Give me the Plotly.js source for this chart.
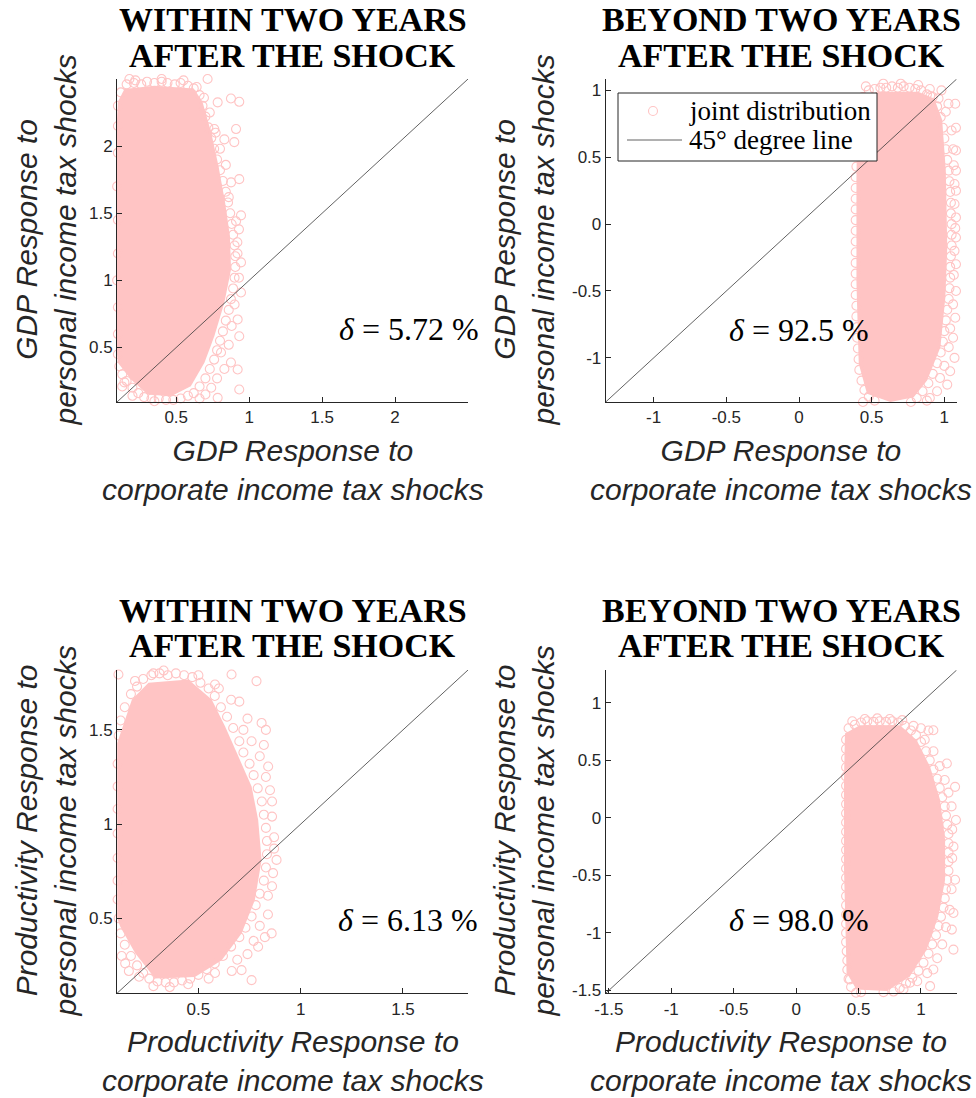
<!DOCTYPE html>
<html><head><meta charset="utf-8">
<script src="https://cdn.plot.ly/plotly-3.0.1.min.js"></script>
<style>html,body{margin:0;padding:0;background:#fff}</style>
</head><body><div id="chart" style="width:976px;height:1098px"></div>
<script>
// ---------- data ----------
const limits1 = [0.094, 2.5];      // GDP, within two years (x = y limits)
const limits2 = [-1.33, 1.085];    // GDP, beyond two years
const limits3 = [0.102, 1.818];    // Productivity, within two years
const limits4 = [-1.525, 1.286];   // Productivity, beyond two years

const ticks1 = [0.5, 1, 1.5, 2];
const ticks2 = [-1, -0.5, 0, 0.5, 1];
const ticks3 = [0.5, 1, 1.5];
const ticks4 = [-1.5, -1, -0.5, 0, 0.5, 1];

const deltaValues = ['5.72', '92.5', '6.13', '98.0'];

const titleLine1 = ['WITHIN TWO YEARS', 'BEYOND TWO YEARS'];
const titleLine2 = 'AFTER THE SHOCK';
const xTitles = ['GDP Response to', 'Productivity Response to'];
const yTitles = ['GDP Response to', 'Productivity Response to'];
const xTitle2 = 'corporate income tax shocks';
const yTitle2 = 'personal income tax shocks';
const legendLabels = ['joint distribution', '45° degree line'];

// dense (solid) region of each joint distribution
const core1X = [0.094,0.10,0.145,0.35,0.62,0.68,0.74,0.79,0.835,0.868,0.876,0.83,0.761,0.693,0.60,0.465,0.304,0.19,0.10,0.094];
const core1Y = [2.20,2.33,2.425,2.45,2.43,2.33,2.10,1.85,1.58,1.33,1.082,0.833,0.584,0.386,0.211,0.137,0.149,0.261,0.386,0.45];
const core2X = [0.40,0.422,0.537,0.82,0.93,0.985,1.01,1.02,1.007,0.973,0.881,0.789,0.629,0.468,0.411,0.395,0.395];
const core2Y = [0.70,0.92,0.99,0.99,0.94,0.78,0.40,-0.174,-0.547,-0.921,-1.169,-1.294,-1.33,-1.268,-1.044,-0.423,0.324];
const core3X = [0.103,0.175,0.256,0.451,0.565,0.63,0.695,0.76,0.792,0.809,0.776,0.711,0.614,0.483,0.288,0.191,0.118,0.103];
const core3Y = [1.43,1.661,1.75,1.767,1.661,1.519,1.36,1.2,1.023,0.81,0.597,0.42,0.278,0.189,0.181,0.314,0.455,0.50];
const core4X = [0.383,0.391,0.511,0.832,0.966,1.073,1.153,1.193,1.193,1.139,1.046,0.912,0.725,0.484,0.404,0.383];
const core4Y = [0.30,0.733,0.805,0.805,0.675,0.444,0.155,-0.191,-0.538,-0.856,-1.145,-1.376,-1.506,-1.491,-1.347,-0.423];

// individual draws visible around the edges of each cloud
const points1 = [[0.12,2.40],[0.16,2.46],[0.21,2.47],[0.26,2.46],[0.30,2.48],[0.35,2.47],[0.40,2.48],[0.44,2.47],[0.49,2.46],[0.53,2.47],[0.58,2.45],[0.62,2.43],[0.179,2.50],[0.715,2.50],
[0.66,2.38],[0.68,2.30],[0.70,2.22],[0.72,2.14],[0.74,2.06],[0.76,1.98],[0.78,1.90],[0.80,1.82],[0.82,1.74],[0.84,1.66],[0.855,1.58],[0.87,1.50],[0.88,1.42],[0.89,1.34],[0.90,1.26],[0.905,1.18],[0.905,1.10],[0.90,1.02],[0.89,0.94],[0.875,0.86],[0.86,0.78],[0.84,0.70],[0.82,0.62],[0.80,0.55],[0.78,0.48],[0.76,0.41],[0.73,0.34],[0.70,0.27],[0.66,0.21],[0.62,0.16],
[0.58,0.14],[0.53,0.12],[0.48,0.11],[0.43,0.11],[0.38,0.12],[0.33,0.12],[0.28,0.13],[0.24,0.16],[0.20,0.20],[0.16,0.25],[0.13,0.30],[0.11,0.36],
[0.10,0.45],[0.10,0.60],[0.10,0.80],[0.095,1.00],[0.10,1.20],[0.10,1.45],[0.095,1.70],[0.10,1.95],[0.10,2.15],[0.10,2.30],
[0.875,2.355],[0.932,2.33],[0.784,2.326],[0.761,2.127],[0.91,2.127],[0.898,2.03],[0.83,2.05],[0.876,1.73],[0.932,1.754],[0.944,1.484],[0.919,1.284],[0.944,1.134],[0.944,0.91],[0.921,0.709],[0.932,0.584],[0.807,0.463],[0.921,0.336],[0.932,0.187],[0.784,0.125],[0.875,0.388],[0.145,0.24],
[0.64,2.44],[0.69,2.36],[0.73,2.25],[0.77,2.10],[0.80,1.98],[0.84,1.86],[0.86,1.62],[0.91,1.44],[0.93,1.38],[0.92,1.20],[0.93,1.02],[0.90,0.82],[0.88,0.66],[0.86,0.52],[0.83,0.34],[0.78,0.27],[0.74,0.20],[0.70,0.15],[0.66,0.12],[0.22,2.49],[0.40,2.50],[0.55,2.49],[0.13,0.21],[0.20,0.14],[0.35,0.10]];

const points2 = [[0.44,0.95],[0.48,1.00],[0.52,1.01],[0.56,1.02],[0.60,1.02],[0.64,1.03],[0.68,1.02],[0.72,1.03],[0.76,1.02],[0.80,1.01],[0.84,1.00],[0.88,0.97],
[0.92,0.95],[0.95,0.88],[0.975,0.80],[0.99,0.72],[1.00,0.64],[1.01,0.56],[1.02,0.48],[1.03,0.40],[1.035,0.32],[1.04,0.24],[1.045,0.16],[1.045,0.08],[1.05,0.00],[1.05,-0.08],[1.05,-0.16],[1.045,-0.24],[1.04,-0.32],[1.04,-0.40],[1.035,-0.48],[1.03,-0.56],[1.02,-0.64],[1.01,-0.72],[1.00,-0.80],[0.99,-0.88],[0.975,-0.96],[0.95,-1.04],[0.92,-1.12],[0.89,-1.19],[0.85,-1.25],[0.81,-1.30],
[0.77,-1.33],[0.72,-1.35],[0.67,-1.36],[0.62,-1.36],[0.57,-1.35],[0.52,-1.32],[0.48,-1.29],[0.45,-1.24],
[0.43,-1.17],[0.415,-1.09],[0.41,-1.01],[0.405,-0.93],[0.40,-0.85],[0.40,-0.77],[0.395,-0.69],[0.395,-0.61],[0.39,-0.53],[0.39,-0.45],[0.39,-0.37],[0.39,-0.29],[0.39,-0.21],[0.39,-0.13],[0.39,-0.05],[0.39,0.03],[0.39,0.11],[0.39,0.19],[0.39,0.27],[0.39,0.35],[0.395,0.43],[0.395,0.51],[0.40,0.59],[0.405,0.67],[0.41,0.75],[0.415,0.83],[0.42,0.90],
[1.075,0.90],[1.08,0.72],[1.08,0.55],[1.08,0.40],[1.08,0.25],[1.08,0.05],[1.08,-0.10],[1.08,-0.30],[1.08,-0.50],[1.075,-0.70],[1.06,-0.85],[1.07,-1.00],[1.04,-1.10],[1.02,-1.20],[0.95,-1.25],[0.90,-1.30],[1.028,0.90],[0.904,0.958],[0.98,1.00],
[0.46,1.03],[0.58,1.05],[0.70,1.05],[0.82,1.04],[0.90,1.01],[0.96,0.94],[1.01,0.84],[1.05,0.70],[1.06,0.56],[1.065,0.44],[1.07,0.30],[1.07,0.15],[1.075,-0.03],[1.07,-0.20],[1.065,-0.38],[1.06,-0.60],[1.04,-0.78],[1.03,-0.92],[1.00,-1.06],[0.97,-1.15],[0.88,-1.32],[0.75,-1.355],[0.55,-1.36],[0.44,-1.33]];

const points3 = [[0.11,1.47],[0.12,1.55],[0.14,1.62],[0.17,1.69],[0.20,1.73],[0.23,1.77],[0.27,1.79],[0.31,1.80],[0.35,1.79],[0.39,1.80],[0.43,1.79],[0.47,1.78],[0.51,1.75],[0.55,1.72],[0.58,1.68],[0.61,1.62],[0.64,1.57],[0.67,1.51],[0.70,1.44],[0.72,1.38],[0.75,1.32],[0.77,1.26],[0.79,1.19],[0.81,1.12],[0.82,1.05],[0.83,0.98],[0.835,0.91],[0.835,0.84],[0.83,0.77],[0.82,0.70],[0.80,0.63],[0.78,0.57],[0.76,0.51],[0.73,0.45],[0.70,0.40],[0.66,0.35],[0.62,0.30],[0.58,0.26],[0.54,0.23],[0.50,0.20],[0.46,0.18],[0.42,0.17],[0.38,0.16],[0.34,0.16],[0.30,0.165],[0.26,0.18],[0.23,0.21],[0.20,0.25],[0.17,0.30],[0.14,0.36],[0.12,0.42],[0.11,0.50],[0.105,0.60],[0.105,0.70],[0.105,0.82],[0.105,0.95],[0.105,1.08],[0.105,1.20],[0.105,1.32],
[0.109,1.794],[0.166,1.82],[0.28,1.80],[0.41,1.82],[0.581,1.741],[0.662,1.794],[0.784,1.759],[0.70,1.65],[0.72,1.50],[0.809,1.537],[0.83,1.50],[0.82,1.42],[0.841,1.306],[0.85,1.18],[0.86,1.12],[0.87,0.93],[0.882,0.81],[0.865,0.74],[0.84,0.62],[0.858,0.42],[0.825,0.40],[0.792,0.349],[0.76,0.172],[0.711,0.225],[0.663,0.22],[0.581,0.21],[0.142,0.261],[0.125,0.30],
[0.19,1.76],[0.33,1.815],[0.50,1.79],[0.60,1.72],[0.66,1.66],[0.74,1.56],[0.76,1.44],[0.80,1.36],[0.83,1.25],[0.86,1.04],[0.87,0.87],[0.86,0.67],[0.84,0.52],[0.80,0.46],[0.77,0.38],[0.74,0.31],[0.69,0.28],[0.55,0.18],[0.45,0.15],[0.36,0.135],[0.28,0.14],[0.21,0.19],[0.16,0.22]];

const points4 = [[0.42,0.78],[0.47,0.81],[0.52,0.83],[0.57,0.84],[0.62,0.835],[0.67,0.84],[0.72,0.835],[0.77,0.84],[0.82,0.83],[0.87,0.80],[0.92,0.76],[0.96,0.72],
[1.00,0.66],[1.04,0.58],[1.07,0.50],[1.10,0.42],[1.13,0.34],[1.15,0.26],[1.17,0.18],[1.19,0.10],[1.20,0.02],[1.21,-0.06],[1.22,-0.14],[1.22,-0.22],[1.22,-0.30],[1.22,-0.38],[1.22,-0.46],[1.21,-0.54],[1.20,-0.62],[1.19,-0.70],[1.18,-0.78],[1.16,-0.86],[1.14,-0.94],[1.12,-1.02],[1.09,-1.10],[1.06,-1.18],[1.02,-1.26],[0.98,-1.33],[0.93,-1.39],[0.88,-1.44],[0.83,-1.48],
[0.78,-1.51],[0.72,-1.53],[0.66,-1.53],[0.60,-1.54],[0.54,-1.53],[0.48,-1.52],[0.44,-1.47],[0.42,-1.40],
[0.41,-1.32],[0.41,-1.24],[0.405,-1.16],[0.40,-1.08],[0.40,-1.00],[0.40,-0.92],[0.40,-0.84],[0.40,-0.76],[0.40,-0.68],[0.40,-0.60],[0.40,-0.52],[0.40,-0.44],[0.40,-0.36],[0.40,-0.28],[0.40,-0.20],[0.40,-0.12],[0.40,-0.04],[0.40,0.04],[0.40,0.12],[0.40,0.20],[0.40,0.28],[0.40,0.36],[0.40,0.44],[0.40,0.52],[0.40,0.60],[0.40,0.68],
[1.00,0.78],[1.06,0.76],[1.099,0.762],[1.207,0.473],[1.273,0.27],[1.28,-0.018],[1.26,-0.25],[1.273,-0.538],[1.26,-0.827],[1.247,-0.971],[1.26,-1.145],[1.099,-1.318],[1.073,-1.463],[0.912,-1.433],[0.431,-1.405],
[0.45,0.84],[0.55,0.86],[0.65,0.865],[0.75,0.86],[0.85,0.85],[0.94,0.80],[1.03,0.68],[1.10,0.58],[1.15,0.45],[1.19,0.33],[1.22,0.22],[1.245,0.10],[1.25,-0.10],[1.25,-0.35],[1.245,-0.62],[1.23,-0.80],[1.20,-0.95],[1.17,-1.10],[1.13,-1.22],[1.05,-1.35],[0.97,-1.42],[0.86,-1.49],[0.70,-1.515],[0.52,-1.515]];

// ---------- drawing ----------
const W = 976, H = 1098;
const fx = p => p / W, fy = p => 1 - p / H;
const pink = 'rgb(255,196,196)';
const axisCol = '#262626';

const panels = [
  {n:'', lim:limits1, ticks:ticks1, core:[core1X, core1Y], pts:points1, delta:deltaValues[0], dx:337, dy:329},
  {n:'2', lim:limits2, ticks:ticks2, core:[core2X, core2Y], pts:points2, delta:deltaValues[1], dx:727, dy:330},
  {n:'3', lim:limits3, ticks:ticks3, core:[core3X, core3Y], pts:points3, delta:deltaValues[2], dx:336, dy:920},
  {n:'4', lim:limits4, ticks:ticks4, core:[core4X, core4Y], pts:points4, delta:deltaValues[3], dx:727, dy:920}
];
const xDom = [[117/W, 468/W], [605.7/W, 956.7/W]];
const yDom = [[(H-402)/H, (H-79)/H], [(H-993.3)/H, (H-670)/H]];

const traces = [];
const layout = {
  width: W, height: H, margin: {l:0, r:0, t:0, b:0},
  paper_bgcolor: '#fff', plot_bgcolor: '#fff',
  showlegend: false,
  annotations: [],
  shapes: []
};

panels.forEach((p, i) => {
  const col = i % 2, row = Math.floor(i / 2);
  const xa = 'x' + p.n, ya = 'y' + p.n;
  const axBase = {
    showline: true, linecolor: axisCol, linewidth: 1, ticks: 'inside', ticklen: 5,
    tickcolor: axisCol, tickwidth: 1, showgrid: false, zeroline: false,
    tickfont: {family: 'Liberation Sans, Arial, sans-serif', size: 17, color: axisCol},
    range: p.lim, tickvals: p.ticks, ticktext: p.ticks.map(String), fixedrange: true
  };
  layout['xaxis' + p.n] = Object.assign({}, axBase, {domain: xDom[col], anchor: ya});
  layout['yaxis' + p.n] = Object.assign({}, axBase, {domain: yDom[row], anchor: xa});

  traces.push({type: 'scatter', x: p.core[0], y: p.core[1], xaxis: xa, yaxis: ya,
    mode: 'none', fill: 'toself', fillcolor: pink, hoverinfo: 'skip'});
  traces.push({type: 'scatter', x: p.pts.map(d => d[0]), y: p.pts.map(d => d[1]), xaxis: xa, yaxis: ya,
    mode: 'markers', name: legendLabels[0], cliponaxis: false,
    marker: {symbol: 'circle-open', size: 9, color: pink, line: {width: 1.1}}, hoverinfo: 'skip'});
  traces.push({type: 'scatter', x: p.lim, y: p.lim, xaxis: xa, yaxis: ya,
    mode: 'lines', name: legendLabels[1], line: {color: '#3a3a3a', width: 0.8}, hoverinfo: 'skip'});

  const cx = (col === 0 ? (117 + 468) / 2 : (605.7 + 956.7) / 2);
  const tTop = row === 0 ? 20 : 610;
  layout.annotations.push(
    {text: '<b>' + titleLine1[col] + '</b>', xref: 'paper', yref: 'paper', x: fx(cx), y: fy(tTop),
     xanchor: 'center', yanchor: 'middle', showarrow: false,
     font: {family: 'Liberation Serif, serif', size: 34, color: '#000'}},
    {text: '<b>' + titleLine2 + '</b>', xref: 'paper', yref: 'paper', x: fx(cx), y: fy(tTop + 35),
     xanchor: 'center', yanchor: 'middle', showarrow: false,
     font: {family: 'Liberation Serif, serif', size: 34, color: '#000'}},
    {text: '<i>' + xTitles[row] + '</i><br><i>' + xTitle2 + '</i>', xref: 'paper', yref: 'paper',
     x: fx(cx), y: fy(row === 0 ? 470 : 1061), xanchor: 'center', yanchor: 'middle', showarrow: false,
     font: {family: 'Liberation Sans, Arial, sans-serif', size: 30, color: axisCol}},
    {text: '<i>' + yTitles[row] + '</i><br><i>' + yTitle2 + '</i>', xref: 'paper', yref: 'paper',
     x: fx(col === 0 ? 45 : 523), y: fy(row === 0 ? 240.5 : 831.5), textangle: -90,
     xanchor: 'center', yanchor: 'middle', showarrow: false,
     font: {family: 'Liberation Sans, Arial, sans-serif', size: 30, color: axisCol}},
    {text: '<i>δ</i> = ' + p.delta + ' %', xref: 'paper', yref: 'paper', x: fx(p.dx), y: fy(p.dy),
     xanchor: 'left', yanchor: 'middle', showarrow: false,
     font: {family: 'Liberation Serif, serif', size: 32, color: '#000'}}
  );
});

// legend box (top-right panel), drawn like the original boxed legend
layout.shapes.push(
  {type: 'rect', xref: 'paper', yref: 'paper', x0: fx(618), x1: fx(877), y0: fy(161), y1: fy(93),
   fillcolor: '#fff', line: {color: axisCol, width: 1}, layer: 'above'},
  {type: 'circle', xref: 'paper', yref: 'paper', x0: fx(648.5), x1: fx(657.5), y0: fy(115.5), y1: fy(106.5),
   fillcolor: 'rgba(0,0,0,0)', line: {color: pink, width: 1.1}, layer: 'above'},
  {type: 'line', xref: 'paper', yref: 'paper', x0: fx(627), x1: fx(682), y0: fy(140), y1: fy(140),
   line: {color: '#3a3a3a', width: 0.8}, layer: 'above'}
);
legendLabels.forEach((t, k) => layout.annotations.push(
  {text: t, xref: 'paper', yref: 'paper', x: fx(687), y: fy(k === 0 ? 111 : 140),
   xanchor: 'left', yanchor: 'middle', showarrow: false,
   font: {family: 'Liberation Serif, serif', size: 27, color: '#000'}}));

Plotly.newPlot('chart', traces, layout, {displayModeBar: false, staticPlot: true});
</script></body></html>
